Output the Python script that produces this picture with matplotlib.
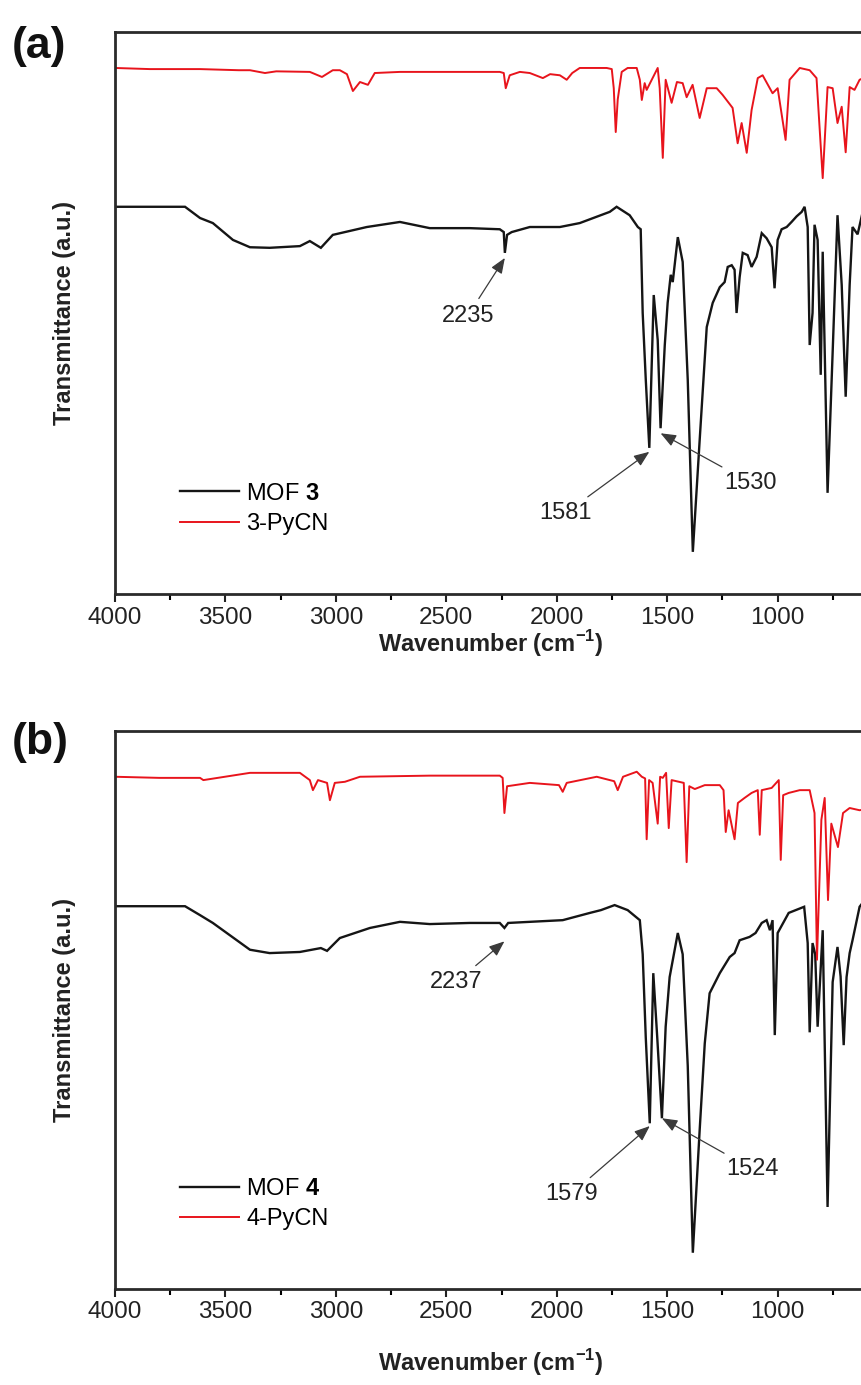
import matplotlib
matplotlib.use("Agg")
import matplotlib.pyplot as plt
from matplotlib.ticker import MultipleLocator

plt.rcParams['font.family'] = ['Liberation Sans', 'DejaVu Sans']
plt.rcParams['mathtext.fontset'] = 'custom'
plt.rcParams['mathtext.rm'] = 'Liberation Sans'
plt.rcParams['mathtext.bf'] = 'Liberation Sans:bold'

# ---------------- data (wavenumber cm-1, transmittance a.u.) ----------------
# Panel (a) 3-PyCN (red)
wn_a_red = [4000, 3842, 3615, 3440, 3389, 3321, 3270, 3118, 3063, 3014, 2982, 2950, 2923, 2891,
            2855, 2824, 2710, 2575, 2394, 2258, 2240, 2231, 2213, 2167, 2122, 2063, 2030, 1986,
            1955, 1930, 1896, 1774, 1751, 1742, 1733, 1724, 1706, 1679, 1638, 1624, 1615, 1602,
            1593, 1570, 1543, 1534, 1520, 1507, 1480, 1456, 1430, 1412, 1385, 1353, 1321, 1276,
            1249, 1204, 1181, 1163, 1140, 1118, 1090, 1068, 1023, 1000, 964, 946, 900, 855, 824,
            796, 774, 751, 729, 710, 692, 674, 652, 629, 600]
t_a_red = [93.6, 93.4, 93.4, 93.2, 93.2, 92.7, 93.0, 92.9, 92.0, 93.2, 93.2, 92.5, 89.5, 91.1,
           90.6, 92.7, 92.9, 92.9, 92.9, 92.9, 92.7, 90.0, 92.3, 92.9, 92.7, 91.8, 92.5, 92.3,
           91.5, 92.7, 93.6, 93.6, 93.4, 90.0, 82.2, 88.0, 92.9, 93.6, 93.6, 91.5, 87.9, 90.9,
           89.7, 91.5, 93.6, 90.0, 77.6, 91.5, 87.4, 91.1, 90.9, 88.4, 90.6, 84.7, 90.0, 90.0,
           88.8, 86.5, 80.2, 83.8, 78.5, 86.1, 91.8, 92.3, 89.1, 90.0, 80.8, 91.5, 93.6, 93.2, 91.8,
           74.0, 90.2, 90.0, 83.8, 86.7, 78.6, 90.2, 89.7, 91.5, 92.0]

# Panel (a) MOF 3 (black)
wn_a_blk = [4000, 3683, 3615, 3557, 3466, 3389, 3300, 3163, 3118, 3068, 3014, 2860, 2710, 2575,
            2394, 2258, 2240, 2235, 2225, 2204, 2122, 1986, 1896, 1760, 1729, 1670, 1633, 1620,
            1611, 1597, 1581, 1561, 1543, 1530, 1511, 1498, 1484, 1475, 1452, 1430, 1407, 1384,
            1353, 1321, 1294, 1262, 1240, 1226, 1208, 1195, 1186, 1172, 1158, 1136, 1118, 1095,
            1072, 1050, 1027, 1014, 1000, 982, 959, 937, 914, 891, 878, 864, 855, 842, 833, 819,
            805, 796, 774, 751, 729, 710, 692, 674, 661, 638, 615, 600]
t_a_blk = [68.9, 68.9, 66.9, 66.0, 63.0, 61.7, 61.6, 61.9, 62.8, 61.6, 63.9, 65.3, 66.2, 65.1,
           65.1, 64.9, 64.4, 60.7, 63.9, 64.4, 65.3, 65.3, 66.0, 68.0, 68.9, 67.4, 65.3, 64.9,
           50.0, 38.1, 26.0, 53.2, 45.2, 29.5, 44.3, 51.8, 56.8, 55.5, 63.5, 59.1, 38.1, 7.5,
           27.4, 47.5, 51.8, 54.6, 55.5, 58.2, 58.5, 57.7, 50.0, 56.4, 60.7, 60.3, 58.2, 60.0,
           64.2, 63.3, 61.7, 54.4, 63.0, 64.9, 65.3, 66.2, 67.2, 68.0, 68.9, 65.3, 44.3, 50.0, 65.7, 63.0,
           39.0, 60.9, 18.0, 43.0, 67.4, 55.0, 35.1, 55.0, 65.3, 64.0, 68.0, 68.5]

# Panel (b) 4-PyCN (red)
wn_b_red = [4000, 3800, 3615, 3600, 3389, 3163, 3118, 3104, 3081, 3040, 3027, 3005, 2959, 2891,
            2575, 2258, 2245, 2237, 2225, 2122, 1990, 1973, 1955, 1819, 1740, 1724, 1700, 1638,
            1615, 1600, 1593, 1582, 1566, 1543, 1532, 1520, 1505, 1493, 1480, 1425, 1412, 1400,
            1375, 1330, 1262, 1245, 1235, 1222, 1195, 1180, 1150, 1118, 1090, 1081, 1072, 1027,
            995, 986, 975, 950, 900, 855, 833, 822, 802, 787, 772, 757, 727, 704, 674, 629, 600]
t_b_red = [91.8, 91.6, 91.6, 91.2, 92.5, 92.5, 91.2, 89.4, 91.2, 90.7, 87.6, 90.7, 90.9, 91.8,
           92.0, 92.0, 91.6, 85.3, 90.1, 90.7, 90.3, 89.1, 90.7, 91.8, 91.0, 89.4, 91.8, 92.7,
           91.8, 91.5, 80.6, 91.2, 90.7, 83.4, 91.8, 91.6, 92.5, 82.6, 91.2, 90.7, 76.5, 90.1,
           89.6, 90.3, 90.3, 89.4, 81.9, 85.8, 80.6, 87.1, 88.0, 88.9, 89.4, 81.4, 89.4, 89.8,
           91.2, 76.9, 88.5, 88.9, 89.4, 89.4, 85.3, 59.0, 84.1, 88.0, 69.7, 83.4, 79.2, 85.3, 86.2, 85.8, 86.0]

# Panel (b) MOF 4 (black)
wn_b_blk = [4000, 3683, 3615, 3557, 3389, 3300, 3163, 3068, 3040, 2982, 2846, 2710, 2575, 2394,
            2258, 2237, 2220, 2122, 1973, 1850, 1800, 1738, 1679, 1624, 1611, 1597, 1579, 1563,
            1545, 1524, 1507, 1489, 1452, 1430, 1407, 1384, 1353, 1330, 1308, 1262, 1217, 1195,
            1172, 1127, 1100, 1072, 1050, 1035, 1023, 1013, 1000, 950, 880, 864, 855, 842, 830,
            819, 796, 774, 751, 729, 715, 701, 688, 674, 661, 629, 600]
t_b_blk = [68.6, 68.6, 67.0, 65.6, 60.8, 60.2, 60.4, 61.1, 60.6, 62.9, 64.7, 65.8, 65.4, 65.6,
           65.6, 64.7, 65.6, 65.8, 66.1, 67.4, 67.9, 68.8, 67.9, 66.1, 60.0, 45.0, 29.7, 56.6,
           45.0, 30.6, 47.0, 55.9, 63.8, 60.0, 40.0, 6.5, 28.5, 44.0, 53.0, 56.6, 59.5, 60.2,
           62.5, 63.1, 63.8, 65.6, 66.1, 64.3, 66.1, 45.5, 63.8, 67.4, 68.5, 62.0, 46.0, 62.0, 60.0,
           47.0, 64.3, 14.7, 55.0, 61.3, 56.0, 43.7, 55.9, 60.2, 62.5, 68.5, 70.0]

legend_a = ['MOF $\\mathbf{3}$', '3-PyCN']
legend_b = ['MOF $\\mathbf{4}$', '4-PyCN']

# peak labels: (label, peak wavenumber, tip value, text wavenumber, text value)
peaks_a = [('2235', 2235, 59.8, 2403, 49.5),
           ('1581', 1581, 25.3, 1960, 14.4),
           ('1530', 1530, 28.6, 1122, 19.8)]
peaks_b = [('2237', 2237, 62.3, 2455, 55.0),
           ('1579', 1579, 29.2, 1935, 17.0),
           ('1524', 1524, 30.6, 1115, 21.5)]

xticks = [4000, 3500, 3000, 2500, 2000, 1500, 1000]

RED = '#e8141c'
BLK = '#151515'

fig = plt.figure(figsize=(8.61, 13.85), dpi=100)
W, H = 861, 1385

def make_axes(top_px, bot_px):
    left, right = 115, 866
    return fig.add_axes([left / W, 1 - bot_px / H, (right - left) / W, (bot_px - top_px) / H])

axa = make_axes(32, 594)
axb = make_axes(731, 1289)

panels = [
    (axa, wn_a_blk, t_a_blk, wn_a_red, t_a_red, legend_a, peaks_a, '(a)', 26, -0.060),
    (axb, wn_b_blk, t_b_blk, wn_b_red, t_b_red, legend_b, peaks_b, '(b)', 722, -0.105),
]

for ax, wb, tb, wr, tr, leg, peaks, tag, tag_y, xlab_y in panels:
    l1, = ax.plot(wb, tb, color=BLK, lw=1.7, solid_joinstyle='miter')
    l2, = ax.plot(wr, tr, color=RED, lw=1.4)
    ax.set_xlim(4000, 600)
    ax.set_ylim(0, 100)
    ax.set_xticks(xticks)
    ax.xaxis.set_minor_locator(MultipleLocator(250))
    ax.set_yticks([])
    ax.tick_params(axis='x', which='major', direction='out', length=6, width=1.5,
                   labelsize=17.5, pad=3, colors='#222222')
    ax.tick_params(axis='x', which='minor', direction='out', length=4, width=1.5)
    for s in ax.spines.values():
        s.set_linewidth(2.0)
        s.set_color('#2a2a2a')
    ax.set_xlabel('Wavenumber (cm$^{\\mathbf{-1}}$)', fontsize=17, fontweight='bold', color='#222222')
    ax.xaxis.set_label_coords(0.5, xlab_y)
    ax.set_ylabel('Transmittance (a.u.)', fontsize=17, fontweight='bold', color='#222222')
    ax.yaxis.set_label_coords(-0.052, 0.5)
    ax.legend([l1, l2], leg, loc='lower left', bbox_to_anchor=(0.087, 0.105),
              frameon=False, fontsize=17, handlelength=2.5, handletextpad=0.3,
              labelspacing=0.35, borderpad=0, borderaxespad=0)
    for lab, px, py, tx, ty in peaks:
        ax.annotate(lab, xy=(px, py), xytext=(tx, ty), ha='center', va='center',
                    fontsize=17, color='#222222',
                    arrowprops=dict(arrowstyle='-|>,head_length=0.55,head_width=0.22',
                                    color='#3a3a3a', lw=0.9, shrinkA=3, shrinkB=0))
    fig.text(12 / W, 1 - tag_y / H, tag, fontsize=32, fontweight='bold', va='top', ha='left',
             color='#111111')

fig.savefig('out.png', dpi=100)
